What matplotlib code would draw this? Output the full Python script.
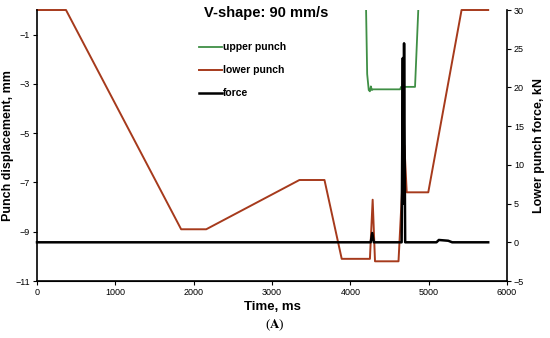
import matplotlib
matplotlib.use("Agg")
import matplotlib.pyplot as plt

plt.rcParams['font.family'] = ['Liberation Sans', 'DejaVu Sans']
plt.rcParams['mathtext.fontset'] = 'stix'

# lower punch displacement, mm
lower_t = [0, 370, 1840, 2160, 3350, 3670, 3890, 4250, 4285, 4315, 4615, 4690, 4720, 4995, 5420, 5760]
lower_y = [0, 0, -8.9, -8.9, -6.9, -6.9, -10.1, -10.1, -7.7, -10.2, -10.2, -5.5, -7.4, -7.4, 0, 0]

# upper punch displacement, mm
upper_t = [4200, 4215, 4235, 4250, 4262, 4275, 4290, 4635, 4648, 4826, 4870]
upper_y = [0.2, -2.6, -3.25, -3.3, -3.1, -3.25, -3.22, -3.22, -3.12, -3.12, 0.2]

# lower punch force, kN
force_t = [0, 4260, 4280, 4300, 4655, 4670, 4678, 4686, 4700, 5100, 5130, 5250, 5300, 5760]
force_y = [0, 0, 1.2, 0, 0, 23.8, 5, 25.7, 0, 0, 0.3, 0.2, 0, 0]

x_ticks = [0, 1000, 2000, 3000, 4000, 5000, 6000]
left_ticks = [-11, -9, -7, -5, -3, -1]
right_ticks = [-5, 0, 5, 10, 15, 20, 25, 30]

fig = plt.figure(figsize=(5.5, 3.38), dpi=100)
ax = fig.add_axes([0.0673, 0.1686, 0.8545, 0.8018])
ax2 = ax.twinx()

l1, = ax.plot(upper_t, upper_y, color='#3f8f45', lw=1.3, label='upper punch')
l2, = ax.plot(lower_t, lower_y, color='#a63a1c', lw=1.4, label='lower punch', clip_on=False)
l3, = ax2.plot(force_t, force_y, color='black', lw=1.8, label='force', clip_on=False)

ax.set_xlim(0, 6000)
ax.set_ylim(-11, 0)
ax2.set_ylim(-5, 30)
ax.set_xticks(x_ticks)
ax.set_yticks(left_ticks)
ax2.set_yticks(right_ticks)

for a in (ax, ax2):
    a.spines['top'].set_visible(False)
    a.tick_params(labelsize=6.5, length=3, width=0.8, pad=2)
ax.spines['right'].set_visible(False)
ax2.spines['left'].set_visible(False)
for s in ('left', 'bottom'):
    ax.spines[s].set_linewidth(1.2)
ax2.spines['right'].set_linewidth(1.2)

ax.set_xlabel('Time, ms', fontsize=9.5, fontweight='bold', labelpad=3)
ax.set_ylabel('Punch displacement, mm', fontsize=9, fontweight='bold', labelpad=1)
ax2.set_ylabel('Lower punch force, kN', fontsize=9, fontweight='bold', labelpad=6)

ax.text(0.487, 0.988, 'V-shape: 90 mm/s', transform=ax.transAxes, ha='center', va='center',
        fontsize=10.5, fontweight='bold')

ax2.legend(handles=[l1, l2, l3], loc='upper left', bbox_to_anchor=(0.325, 0.915),
           frameon=False, prop={'weight': 'bold', 'size': 7.5}, handlelength=2.2,
           handletextpad=0.1, labelspacing=1.25)

fig.text(0.5, 0.015, r'($\mathbf{A}$)', ha='center', va='bottom', fontsize=9.5,
         family='Liberation Serif')

fig.savefig('out.png', dpi=100)
